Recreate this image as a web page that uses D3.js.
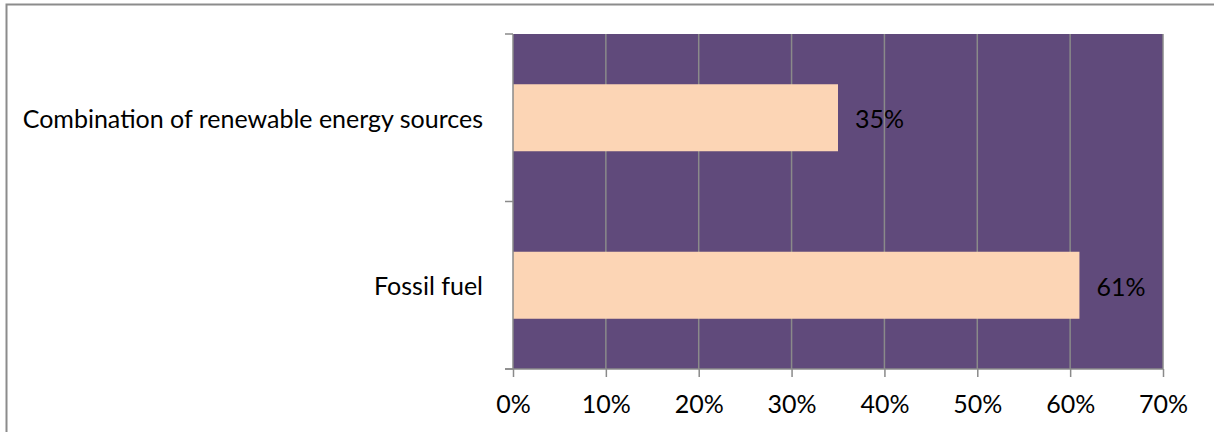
<!DOCTYPE html>
<html>
<head>
<meta charset="utf-8">
<script src="https://cdn.jsdelivr.net/npm/d3@7"></script>
<style>
  html, body { margin: 0; padding: 0; background: #fff; }
  svg { display: block; }
  text { font-family: Lato, "Open Sans", sans-serif; fill: #000; }
</style>
</head>
<body>
<svg id="chart" width="1214" height="432"></svg>
<script>
// Energy source shares
const categories = ["Combination of renewable energy sources", "Fossil fuel"];
const shares = [0.35, 0.61];
const valueLabels = ["35%", "61%"];
const tickValues = [0, 0.1, 0.2, 0.3, 0.4, 0.5, 0.6, 0.7];

const FONT = "Lato, 'Open Sans', sans-serif";
const FS = 25;

const svg = d3.select("#chart");
const W = 1214, H = 432;

// Outer chart frame (runs off the right and bottom edges)
svg.append("rect")
  .attr("x", 6.5).attr("y", 4.5)
  .attr("width", W + 10).attr("height", H + 10)
  .attr("fill", "none").attr("stroke", "#8c8c8c").attr("stroke-width", 2);

const plot = { left: 513, right: 1163, top: 34, bottom: 369 };

const x = d3.scaleLinear().domain([0, 0.7]).range([plot.left, plot.right]);
const y = d3.scaleBand().domain(categories).range([plot.top, plot.bottom]).paddingInner(0.6).paddingOuter(0.3);
const yEdge = d3.scaleBand().domain(categories).range([plot.top, plot.bottom]);

// Plot background
svg.append("rect")
  .attr("x", plot.left).attr("y", plot.top)
  .attr("width", plot.right - plot.left).attr("height", plot.bottom - plot.top)
  .attr("fill", "#604A7B");

// Vertical gridlines
svg.append("g").selectAll("line").data(tickValues.slice(1)).join("line")
  .attr("x1", d => x(d)).attr("x2", d => x(d))
  .attr("y1", plot.top).attr("y2", plot.bottom)
  .attr("stroke", "#8a8a8a").attr("stroke-width", 1.5);

// Bars
svg.append("g").selectAll("rect").data(categories).join("rect")
  .attr("x", x(0))
  .attr("y", d => y(d))
  .attr("width", (d, i) => x(shares[i]) - x(0))
  .attr("height", y.bandwidth())
  .attr("fill", "#FCD5B5");

// Value labels
svg.append("g").selectAll("text").data(categories).join("text")
  .attr("x", (d, i) => x(shares[i]) + 17)
  .attr("y", d => y(d) + y.bandwidth() / 2)
  .attr("dy", "0.42em")
  .attr("font-size", FS)
  .text((d, i) => valueLabels[i]);

// X axis
const xAxis = d3.axisBottom(x).tickValues(tickValues).tickFormat(d3.format(".0%")).tickSize(8).tickPadding(18).tickSizeOuter(0);
const gx = svg.append("g").attr("transform", `translate(0,${plot.bottom})`).call(xAxis);
gx.select(".domain").attr("stroke", "#8a8a8a").attr("stroke-width", 1.5)
  .attr("d", `M${plot.left - 8},0H${plot.right}`);
gx.selectAll(".tick line").attr("stroke", "#8a8a8a").attr("stroke-width", 1.5);
gx.selectAll(".tick text").attr("font-size", FS).attr("font-family", FONT).attr("fill", "#000");

// Y axis line with category boundary ticks
const gy = svg.append("g");
gy.append("line")
  .attr("x1", plot.left).attr("x2", plot.left)
  .attr("y1", plot.top).attr("y2", plot.bottom)
  .attr("stroke", "#8a8a8a").attr("stroke-width", 1.5);
const edges = [plot.top, ...categories.map(c => yEdge(c) + yEdge.bandwidth())];
gy.selectAll("line.tk").data(edges).join("line").attr("class", "tk")
  .attr("x1", plot.left - 8).attr("x2", plot.left)
  .attr("y1", d => d).attr("y2", d => d)
  .attr("stroke", "#8a8a8a").attr("stroke-width", 1.5);

// Category labels
gy.selectAll("text").data(categories).join("text")
  .attr("x", plot.left - 30)
  .attr("y", d => yEdge(d) + yEdge.bandwidth() / 2)
  .attr("dy", "0.4em")
  .attr("text-anchor", "end")
  .attr("font-size", FS)
  .text(d => d);
</script>
</body>
</html>
